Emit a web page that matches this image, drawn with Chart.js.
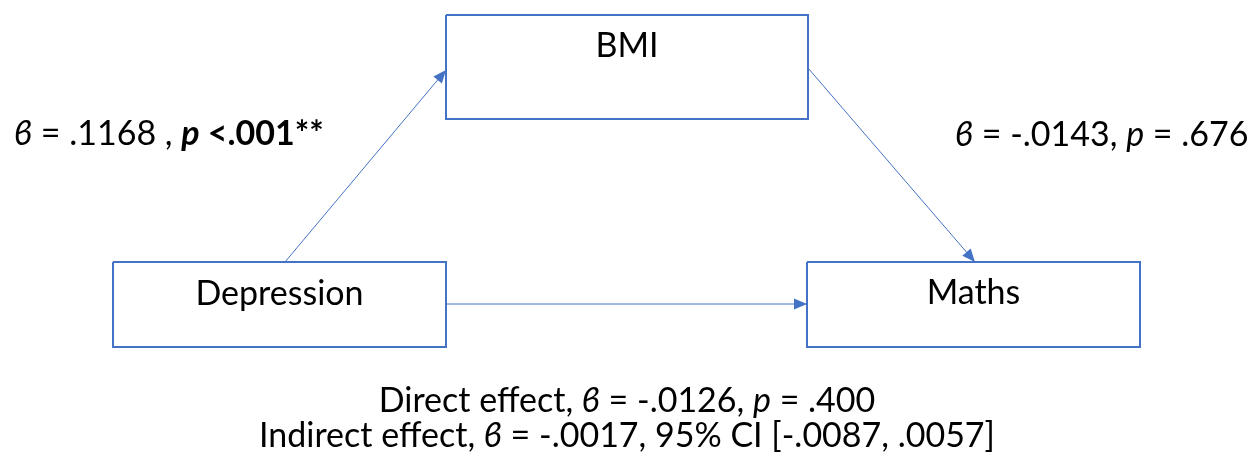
<!DOCTYPE html>
<html lang="en">
<head>
    <meta charset="UTF-8">
    <title>Mediation model</title>
    <script src="https://cdn.jsdelivr.net/npm/chart.js"></script>
    <style>
        html, body { margin: 0; padding: 0; background: #fff; }
        .chart-container { width: 1259px; height: 461px; }
    </style>
</head>
<body>
    <div class="chart-container">
        <canvas id="myChart"></canvas>
    </div>
    <script>
        // variables in the model
        const nodeNames = ['BMI', 'Depression', 'Maths'];
        // paths: from -> to
        const pathFrom = ['Depression', 'BMI', 'Depression'];
        const pathTo = ['BMI', 'Maths', 'Maths'];
        // coefficient labels, as runs of [text, style]
        const labelA = [['ϐ', 'i'], [' = .1168 , ', ''], ['p', 'bi'], [' <.001**', 'b']];
        const labelB = [['ϐ', 'i'], [' = -.0143, ', ''], ['p', 'i'], [' = .676', '']];
        const labelDirect = [['Direct effect, ', ''], ['ϐ', 'i'], [' = -.0126, ', ''], ['p', 'i'], [' = .400', '']];
        const labelIndirect = [['Indirect effect, ', ''], ['ϐ', 'i'], [' = -.0017, 95% CI [-.0087, .0057]', '']];

        // diagram layout (in axis units)
        const boxes = {
            BMI: { x0: 446, x1: 808, y0: 15, y1: 119, ty: 57 },
            Depression: { x0: 113, x1: 446, y0: 262, y1: 347, ty: 305 },
            Maths: { x0: 807, x1: 1140, y0: 262, y1: 347, ty: 304 }
        };
        const anchors = {
            'Depression>BMI': [[285, 262], [446, 70]],
            'BMI>Maths': [[808, 68], [975, 262]],
            'Depression>Maths': [[446, 304], [807, 304]]
        };
        const textSpots = [
            { runs: labelA, x: 14, y: 145, align: 'left' },
            { runs: labelB, x: 955, y: 146, align: 'left' },
            { runs: labelDirect, x: 627, y: 412, align: 'center' },
            { runs: labelIndirect, x: 627, y: 447, align: 'center' }
        ];

        const BLUE = '#4472C4';
        const FONT = 'Lato, "Noto Sans", sans-serif';
        const SIZE = 34;

        const datasets = [];
        nodeNames.forEach(n => {
            const b = boxes[n];
            datasets.push({
                label: n,
                data: [{ x: b.x0, y: b.y0 }, { x: b.x1, y: b.y0 }, { x: b.x1, y: b.y1 }, { x: b.x0, y: b.y1 }, { x: b.x0, y: b.y0 }],
                showLine: true, borderColor: BLUE, borderWidth: 2, pointRadius: 0, fill: false, tension: 0
            });
        });
        pathFrom.forEach((f, i) => {
            const a = anchors[f + '>' + pathTo[i]];
            datasets.push({
                label: 'path' + i,
                arrow: true,
                data: a.map(p => ({ x: p[0], y: p[1] })),
                showLine: true, borderColor: BLUE, borderWidth: 1, pointRadius: 0, fill: false, tension: 0
            });
        });

        function fontFor(style) {
            return (style.includes('i') ? 'italic ' : '') + (style.includes('b') ? 'bold ' : '') + SIZE + 'px ' + FONT;
        }

        const diagramPlugin = {
            id: 'diagram',
            afterDatasetsDraw(chart) {
                const { ctx, scales: { x, y } } = chart;
                ctx.save();
                // arrow heads
                chart.data.datasets.forEach((ds, i) => {
                    if (!ds.arrow) return;
                    const p = ds.data;
                    const x1 = x.getPixelForValue(p[0].x), y1 = y.getPixelForValue(p[0].y);
                    const x2 = x.getPixelForValue(p[1].x), y2 = y.getPixelForValue(p[1].y);
                    const ang = Math.atan2(y2 - y1, x2 - x1);
                    const len = 13, half = 5.5;
                    ctx.fillStyle = BLUE;
                    ctx.beginPath();
                    ctx.moveTo(x2, y2);
                    ctx.lineTo(x2 - len * Math.cos(ang) + half * Math.sin(ang), y2 - len * Math.sin(ang) - half * Math.cos(ang));
                    ctx.lineTo(x2 - len * Math.cos(ang) - half * Math.sin(ang), y2 - len * Math.sin(ang) + half * Math.cos(ang));
                    ctx.closePath();
                    ctx.fill();
                });
                // box names
                ctx.fillStyle = '#000';
                ctx.textBaseline = 'alphabetic';
                ctx.textAlign = 'center';
                ctx.font = fontFor('');
                nodeNames.forEach(n => {
                    const b = boxes[n];
                    ctx.fillText(n, x.getPixelForValue((b.x0 + b.x1) / 2), y.getPixelForValue(b.ty));
                });
                // coefficient labels
                ctx.textAlign = 'left';
                textSpots.forEach(s => {
                    let w = 0;
                    s.runs.forEach(r => { ctx.font = fontFor(r[1]); w += ctx.measureText(r[0]).width; });
                    let px = x.getPixelForValue(s.x);
                    if (s.align === 'center') px -= w / 2;
                    const py = y.getPixelForValue(s.y);
                    s.runs.forEach(r => {
                        ctx.font = fontFor(r[1]);
                        ctx.fillText(r[0], px, py);
                        px += ctx.measureText(r[0]).width;
                    });
                });
                ctx.restore();
            }
        };

        const ctx = document.getElementById('myChart').getContext('2d');
        const chart = new Chart(ctx, {
            type: 'scatter',
            data: { datasets: datasets },
            options: {
                responsive: true,
                maintainAspectRatio: false,
                animation: false,
                layout: { padding: 0 },
                scales: {
                    x: { type: 'linear', min: 0, max: 1259, display: false },
                    y: { type: 'linear', min: 0, max: 461, reverse: true, display: false }
                },
                plugins: {
                    legend: { display: false },
                    tooltip: { enabled: false }
                }
            },
            plugins: [diagramPlugin]
        });
    </script>
</body>
</html>
